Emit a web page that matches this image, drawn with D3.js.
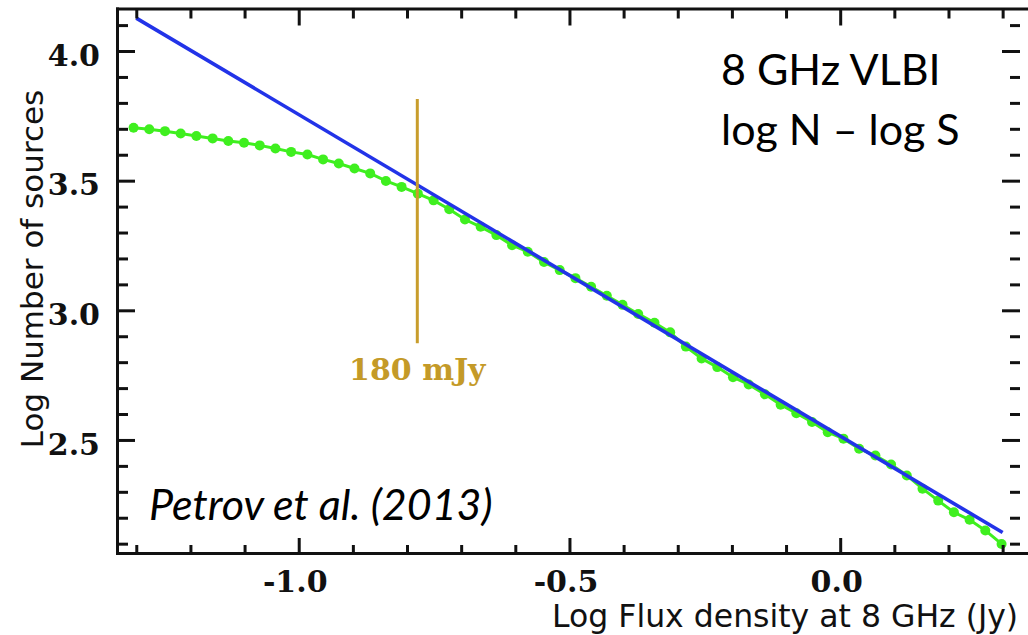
<!DOCTYPE html>
<html lang="en">
	<head>
		<meta charset="utf-8">
		<title>8 GHz VLBI log N - log S</title>
		<script src="https://cdn.jsdelivr.net/npm/d3@7"></script>
		<style type="text/css">
			body {
				margin: 0;
				background: #fff;
			}
			.tick text {
				font-family: "DejaVu Serif", serif;
				font-weight: bold;
				font-size: 30px;
				fill: #111;
			}
			.tick line, .domain {
				stroke: #111;
				stroke-width: 3px;
			}
			.domain {
				stroke-linecap: square;
			}
		</style>
	</head>
	<body>
		<script>

			//Width and height
			var w = 1028;
			var h = 635;

			//Log flux density (Jy) of the binned counts
			var logS = [-1.305, -1.276, -1.247, -1.218, -1.189, -1.159, -1.130, -1.101, -1.072, -1.043,
						-1.014, -0.984, -0.955, -0.926, -0.897, -0.868, -0.839, -0.810, -0.780, -0.751,
						-0.722, -0.693, -0.664, -0.635, -0.606, -0.577, -0.547, -0.518, -0.489, -0.460,
						-0.431, -0.402, -0.373, -0.343, -0.314, -0.285, -0.256, -0.227, -0.198, -0.169,
						-0.139, -0.110, -0.081, -0.052, -0.023, 0.006, 0.035, 0.065, 0.094, 0.123,
						0.152, 0.181, 0.210, 0.239, 0.268, 0.298];

			//Log number of sources (green points)
			var logN = [3.704, 3.698, 3.691, 3.682, 3.672, 3.663, 3.653, 3.646, 3.636, 3.624,
						3.611, 3.601, 3.582, 3.566, 3.547, 3.528, 3.499, 3.476, 3.450, 3.424,
						3.390, 3.350, 3.322, 3.290, 3.251, 3.226, 3.186, 3.155, 3.124, 3.091,
						3.056, 3.021, 2.986, 2.952, 2.915, 2.860, 2.814, 2.781, 2.742, 2.714,
						2.676, 2.636, 2.603, 2.569, 2.530, 2.505, 2.466, 2.440, 2.405, 2.363,
						2.312, 2.266, 2.221, 2.192, 2.151, 2.099];

			//Power-law fit (blue line)
			var fitS = [-1.30, 0.30];
			var fitN = [4.127, 2.143];

			//Completeness limit marker
			var limitS = -0.781;
			var limitN = [3.815, 2.873];
			var limitLabel = "180 mJy";

			//Tick values
			var xMajor = [-1.0, -0.5, 0.0];
			var xMinor = [-1.3, -1.2, -1.1, -0.9, -0.8, -0.7, -0.6, -0.4, -0.3, -0.2, -0.1, 0.1, 0.2, 0.3];
			var yMajor = [2.5, 3.0, 3.5, 4.0];
			var yMinor = [2.1, 2.2, 2.3, 2.4, 2.6, 2.7, 2.8, 2.9, 3.1, 3.2, 3.3, 3.4, 3.6, 3.7, 3.8, 3.9, 4.1];

			//Scales
			var xScale = d3.scaleLinear()
								.domain([-1.3356, 0.369])
								.range([117, 1040]);

			var yScale = d3.scaleLinear()
								.domain([2.064, 4.164])
								.range([553, 8.5]);

			var fmt = function(d) { return d.toFixed(1); };

			//Create SVG element
			var svg = d3.select("body")
						.append("svg")
						.attr("width", w)
						.attr("height", h);

			//Green counts: line then dots
			var counts = d3.zip(logS, logN);

			svg.append("path")
				.datum(counts)
				.attr("fill", "none")
				.attr("stroke", "#3fef1f")
				.attr("stroke-width", 3)
				.attr("d", d3.line()
					.x(function(d) { return xScale(d[0]); })
					.y(function(d) { return yScale(d[1]); }));

			svg.selectAll("circle.count")
				.data(counts)
				.enter()
				.append("circle")
				.attr("class", "count")
				.attr("cx", function(d) { return xScale(d[0]); })
				.attr("cy", function(d) { return yScale(d[1]); })
				.attr("r", 5)
				.attr("fill", "#3fef1f");

			//Blue fit line
			svg.append("path")
				.datum(d3.zip(fitS, fitN))
				.attr("fill", "none")
				.attr("stroke", "#2233e8")
				.attr("stroke-width", 3.6)
				.attr("d", d3.line()
					.x(function(d) { return xScale(d[0]); })
					.y(function(d) { return yScale(d[1]); }));

			//Gold limit line and label
			svg.append("line")
				.attr("x1", xScale(limitS))
				.attr("x2", xScale(limitS))
				.attr("y1", yScale(limitN[0]))
				.attr("y2", yScale(limitN[1]))
				.attr("stroke", "#c89d2c")
				.attr("stroke-width", 3);

			svg.append("text")
				.attr("x", xScale(limitS))
				.attr("y", yScale(limitN[1]) + 37)
				.attr("text-anchor", "middle")
				.style("font-family", "'DejaVu Serif', serif")
				.style("font-weight", "bold")
				.style("font-size", "30px")
				.attr("fill", "#c49a28")
				.text(limitLabel);

			//Axes: major ticks with labels, minor ticks without
			svg.append("g")
				.attr("transform", "translate(0,553)")
				.call(d3.axisBottom(xScale).tickValues(xMajor).tickSizeInner(-15).tickSizeOuter(0).tickPadding(18).tickFormat(fmt))
				.call(function(g) { g.selectAll("text").attr("dx", "-4"); });
			svg.append("g")
				.attr("transform", "translate(0,553)")
				.call(d3.axisBottom(xScale).tickValues(xMinor).tickSize(-8).tickFormat(""))
				.call(function(g) { g.select(".domain").remove(); });

			svg.append("g")
				.attr("transform", "translate(0,8.5)")
				.call(d3.axisTop(xScale).tickValues(xMajor).tickSizeInner(-17).tickSizeOuter(0).tickFormat(""));
			svg.append("g")
				.attr("transform", "translate(0,8.5)")
				.call(d3.axisTop(xScale).tickValues(xMinor).tickSize(-10).tickFormat(""))
				.call(function(g) { g.select(".domain").remove(); });

			svg.append("g")
				.attr("transform", "translate(117,0)")
				.call(d3.axisLeft(yScale).tickValues(yMajor).tickSizeInner(-18).tickSizeOuter(0).tickPadding(17).tickFormat(fmt))
				.call(function(g) { g.selectAll("text").attr("dy", "0.47em"); });
			svg.append("g")
				.attr("transform", "translate(117,0)")
				.call(d3.axisLeft(yScale).tickValues(yMinor).tickSize(-11).tickFormat(""))
				.call(function(g) { g.select(".domain").remove(); });

			//Right side ticks (frame edge is cut off)
			svg.append("g")
				.attr("transform", "translate(1020,0)")
				.call(d3.axisRight(yScale).tickValues(yMajor).tickSize(-18).tickFormat(""))
				.call(function(g) { g.select(".domain").remove(); });
			svg.append("g")
				.attr("transform", "translate(1020,0)")
				.call(d3.axisRight(yScale).tickValues(yMinor).tickSize(-10).tickFormat(""))
				.call(function(g) { g.select(".domain").remove(); });

			//Axis titles
			svg.append("text")
				.attr("x", 552)
				.attr("y", 627)
				.style("font-family", "'DejaVu Sans', sans-serif")
				.style("font-size", "31.5px")
				.attr("fill", "#111")
				.text("Log Flux density at 8 GHz (Jy)");

			svg.append("text")
				.attr("transform", "translate(43,269) rotate(-90)")
				.attr("text-anchor", "middle")
				.style("font-family", "'DejaVu Sans', sans-serif")
				.style("font-size", "31px")
				.attr("fill", "#111")
				.text("Log Number of sources");

			//Annotations
			var note = svg.append("g")
				.style("font-family", "Lato, sans-serif")
				.style("font-size", "43px")
				.attr("fill", "#000");

			note.append("text").attr("x", 721).attr("y", 85).text("8 GHz VLBI");
			note.append("text").attr("x", 721).attr("y", 145).text("log N \u2013 log S");
			note.append("text")
				.attr("x", 149)
				.attr("y", 520)
				.style("font-style", "italic")
				.text("Petrov et al. (2013)");

		</script>
	</body>
</html>
